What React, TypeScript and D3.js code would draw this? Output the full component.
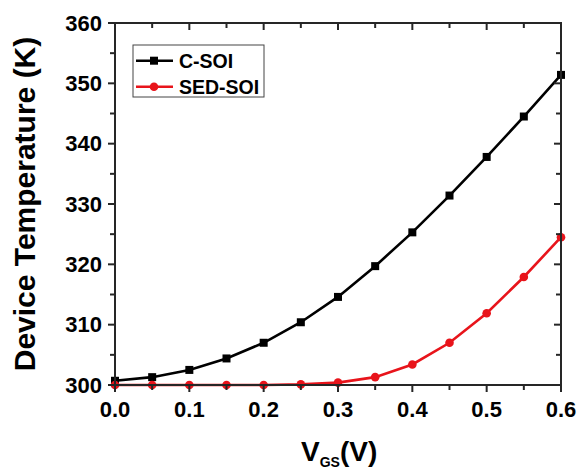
import React from "react";
import * as d3 from "d3";

const vgs = [0, 0.05, 0.1, 0.15, 0.2, 0.25, 0.3, 0.35, 0.4, 0.45, 0.5, 0.55, 0.6];
const cSoi = [300.7, 301.3, 302.5, 304.4, 307.0, 310.4, 314.6, 319.7, 325.3, 331.4, 337.8, 344.5, 351.4];
const sedSoi = [300.0, 300.0, 300.0, 300.0, 300.0, 300.1, 300.4, 301.3, 303.4, 307.0, 311.9, 317.9, 324.5];
const xTicks = [0, 0.1, 0.2, 0.3, 0.4, 0.5, 0.6];
const xMinor = [0.05, 0.15, 0.25, 0.35, 0.45, 0.55];
const yTicks = [300, 310, 320, 330, 340, 350, 360];
const yMinor = [305, 315, 325, 335, 345, 355];
const seriesNames = ["C-SOI", "SED-SOI"];

const W = 579, H = 471;
const L = 115, R = 561, T = 23, B = 385;
const FONT = "'Liberation Sans', Arial, sans-serif";

export default function App() {
  const x = d3.scaleLinear().domain([0, 0.6]).range([L, R]);
  const y = d3.scaleLinear().domain([300, 360]).range([B, T]);
  const line = d3.line<number>().x((_, i) => x(vgs[i])).y((d) => y(d));
  const axisColor = "#262626";
  const major = 7, minor = 5;

  return (
    <svg width={W} height={H} style={{ position: "absolute", left: 0, top: 0, background: "#fff" }}
      fontFamily={FONT} fontWeight="bold">
      <rect x={0} y={0} width={W} height={H} fill="#fff" />
      {/* data lines */}
      <path d={line(cSoi) || ""} fill="none" stroke="#000" strokeWidth={2.6} />
      <path d={line(sedSoi) || ""} fill="none" stroke="#e8141b" strokeWidth={2.6} />
      {cSoi.map((v, i) => (
        <rect key={"c" + i} x={x(vgs[i]) - 4} y={y(v) - 4} width={8} height={8} fill="#000" />
      ))}
      {sedSoi.map((v, i) => (
        <circle key={"s" + i} cx={x(vgs[i])} cy={y(v)} r={4.3} fill="#e8141b" />
      ))}
      {/* frame */}
      <rect x={L} y={T} width={R - L} height={B - T} fill="none" stroke={axisColor} strokeWidth={2} />
      {/* x ticks */}
      {xTicks.map((t) => (
        <g key={"xt" + t}>
          <line x1={x(t)} x2={x(t)} y1={B} y2={B + major} stroke={axisColor} strokeWidth={2} />
          <line x1={x(t)} x2={x(t)} y1={T} y2={T + major} stroke={axisColor} strokeWidth={2} />
          <text x={x(t)} y={416.5} textAnchor="middle" fontSize={22} fill="#000">
            {t.toFixed(1)}
          </text>
        </g>
      ))}
      {xMinor.map((t) => (
        <g key={"xm" + t}>
          <line x1={x(t)} x2={x(t)} y1={B} y2={B + minor} stroke={axisColor} strokeWidth={2} />
          <line x1={x(t)} x2={x(t)} y1={T} y2={T + minor} stroke={axisColor} strokeWidth={2} />
        </g>
      ))}
      {/* y ticks */}
      {yTicks.map((t) => (
        <g key={"yt" + t}>
          <line x1={L - major} x2={L} y1={y(t)} y2={y(t)} stroke={axisColor} strokeWidth={2} />
          <line x1={R - major} x2={R} y1={y(t)} y2={y(t)} stroke={axisColor} strokeWidth={2} />
          <text x={102} y={y(t) + 7.8} textAnchor="end" fontSize={22} fill="#000">
            {t}
          </text>
        </g>
      ))}
      {yMinor.map((t) => (
        <g key={"ym" + t}>
          <line x1={L - minor} x2={L} y1={y(t)} y2={y(t)} stroke={axisColor} strokeWidth={2} />
          <line x1={R - minor} x2={R} y1={y(t)} y2={y(t)} stroke={axisColor} strokeWidth={2} />
        </g>
      ))}
      {/* axis labels */}
      <text transform={`translate(35,204) rotate(-90)`} textAnchor="middle" fontSize={30} fill="#000">
        Device Temperature (K)
      </text>
      <text x={301} y={461} textAnchor="start" fontSize={28} fill="#000">
        <tspan>V</tspan>
        <tspan fontSize={14} dy={6}>GS</tspan>
        <tspan dy={-6}>(V)</tspan>
      </text>
      {/* legend */}
      <rect x={133} y={45} width={131} height={52} fill="#fff" stroke="#444" strokeWidth={1} />
      <line x1={136} x2={173} y1={60.7} y2={60.7} stroke="#000" strokeWidth={2.6} />
      <rect x={150} y={56.7} width={8} height={8} fill="#000" />
      <line x1={136} x2={173} y1={86.7} y2={86.7} stroke="#e8141b" strokeWidth={2.6} />
      <circle cx={154} cy={86.7} r={4.3} fill="#e8141b" />
      <text x={179} y={67.5} fontSize={19.5} fill="#000">{seriesNames[0]}</text>
      <text x={179} y={93.5} fontSize={19.5} fill="#000">{seriesNames[1]}</text>
    </svg>
  );
}
